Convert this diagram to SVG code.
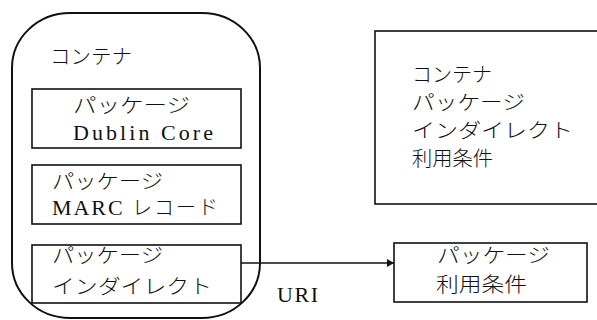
<svg xmlns="http://www.w3.org/2000/svg" width="597" height="320" viewBox="0 0 597 320">
<defs>
<style>
.t{font-family:"Liberation Serif","Noto Sans CJK JP",serif;font-size:20px;font-weight:300;fill:#111}
.l{font-weight:400;font-size:22px}
.box{fill:none;stroke:#111;stroke-width:1.6}
.cont{fill:none;stroke:#111;stroke-width:2}
.conn{fill:none;stroke:#111;stroke-width:1.5}
</style>
<marker id="ah" markerWidth="8" markerHeight="8" refX="7" refY="4" orient="auto" markerUnits="userSpaceOnUse">
<path d="M0,0 L7,4 L0,8 Z" fill="#111"/>
</marker>
</defs>
<rect width="597" height="320" fill="#fff"/>
<g id="container">
<rect class="cont" x="12" y="13" width="248" height="305" rx="58" ry="55"/>
<text class="t" x="50" y="64" textLength="82" lengthAdjust="spacingAndGlyphs">コンテナ</text>
</g>
<g id="pkg-dublin">
<rect class="box" x="32" y="89" width="209" height="59"/>
<text class="t" x="73" y="113" textLength="117" lengthAdjust="spacingAndGlyphs">パッケージ</text>
<text class="t l" x="73" y="140" textLength="140" lengthAdjust="spacing">Dublin Core</text>
</g>
<g id="pkg-marc">
<rect class="box" x="32" y="165" width="209" height="59"/>
<text class="t" x="52" y="189" textLength="111" lengthAdjust="spacingAndGlyphs">パッケージ</text>
<text class="t l" x="52" y="215" textLength="166" lengthAdjust="spacing">MARC <tspan style="font-weight:300;font-size:20px">レコード</tspan></text>
</g>
<g id="pkg-indirect">
<rect class="box" x="32" y="245" width="209" height="58"/>
<text class="t" x="52" y="263" textLength="111" lengthAdjust="spacingAndGlyphs">パッケージ</text>
<text class="t" x="52" y="294" textLength="160" lengthAdjust="spacingAndGlyphs">インダイレクト</text>
</g>
<g id="pkg-terms">
<rect class="box" x="394" y="243" width="193" height="59"/>
<text class="t" x="437" y="263" textLength="113" lengthAdjust="spacingAndGlyphs">パッケージ</text>
<text class="t" x="436" y="292" textLength="91" lengthAdjust="spacingAndGlyphs">利用条件</text>
</g>
<g id="legend">
<rect class="box" x="375" y="31" width="230" height="173"/>
<text class="t" x="412" y="82" textLength="80" lengthAdjust="spacingAndGlyphs">コンテナ</text>
<text class="t" x="412" y="110" textLength="113" lengthAdjust="spacingAndGlyphs">パッケージ</text>
<text class="t" x="412" y="138" textLength="161" lengthAdjust="spacingAndGlyphs">インダイレクト</text>
<text class="t" x="412" y="166" textLength="81" lengthAdjust="spacingAndGlyphs">利用条件</text>
</g>
<g id="connectors">
<line class="conn" x1="241" y1="263" x2="394" y2="263" marker-end="url(#ah)"/>
<text class="t l" x="277" y="302" textLength="41" lengthAdjust="spacing">URI</text>
</g>
</svg>
